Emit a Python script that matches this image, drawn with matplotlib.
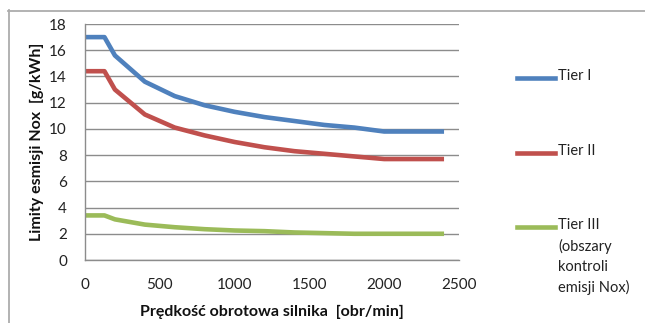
import matplotlib
matplotlib.use("Agg")
import matplotlib.pyplot as plt
from matplotlib.lines import Line2D

# Data
speed = [0, 130, 200, 400, 600, 800, 1000, 1200, 1400, 1600, 1800, 2000, 2400]
tier1 = [17.0, 17.0, 15.6, 13.6, 12.5, 11.8, 11.3, 10.9, 10.6, 10.3, 10.1, 9.8, 9.8]
tier2 = [14.4, 14.4, 13.0, 11.1, 10.1, 9.5, 9.0, 8.6, 8.3, 8.1, 7.9, 7.7, 7.7]
tier3 = [3.4, 3.4, 3.1, 2.7, 2.5, 2.35, 2.25, 2.2, 2.1, 2.05, 2.0, 2.0, 2.0]
series_names = ["Tier I", "Tier II", "Tier III\n(obszary\nkontroli\nemisji Nox)"]
colors = ["#4F81BD", "#C0504D", "#9BBB59"]
xticks = [0, 500, 1000, 1500, 2000, 2500]
yticks = list(range(0, 19, 2))

plt.rcParams['font.family'] = ['Lato', 'DejaVu Sans']

W, H = 645, 323
fig = plt.figure(figsize=(W / 100, H / 100), dpi=100)

# outer border (only top and left edges visible in the crop)
fig.add_artist(Line2D([8 / W, 1.0], [(H - 10.5) / H, (H - 10.5) / H],
                      transform=fig.transFigure, color="#ADADAD", linewidth=1.3))
fig.add_artist(Line2D([8.5 / W, 8.5 / W], [0, (H - 10) / H],
                      transform=fig.transFigure, color="#ADADAD", linewidth=1.3))

ax = fig.add_axes([85 / W, (H - 260) / H, 374 / W, 236 / H])
for y, c in zip([tier1, tier2, tier3], colors):
    ax.plot(speed, y, color=c, linewidth=3.3, solid_capstyle="butt")

ax.set_xlim(0, 2500)
ax.set_ylim(0, 18)
ax.set_xticks(xticks)
ax.set_yticks(yticks)
ax.yaxis.grid(True, color="#8C8C8C", linewidth=1.0)
ax.set_axisbelow(True)
for s in ["top", "right"]:
    ax.spines[s].set_visible(False)
for s in ["left", "bottom"]:
    ax.spines[s].set_color("#8C8C8C")
    ax.spines[s].set_linewidth(1.0)
ax.tick_params(axis="both", length=0, labelsize=11, colors="#222222")
ax.tick_params(axis="y", pad=13)
ax.tick_params(axis="x", pad=13)

ax.set_xlabel("Prędkość obrotowa silnika  [obr/min]", fontsize=11.5,
              fontweight="bold", labelpad=9, color="#111111")
ax.set_ylabel("Limity esmisji Nox  [g/kWh]", fontsize=11.5,
              fontweight="bold", labelpad=4, color="#111111")

# legend (manual)
leg_y = [78, 153, 227]
for y, c, name in zip(leg_y, colors, series_names):
    fy = (H - y) / H
    fig.add_artist(Line2D([517 / W, 555 / W], [fy, fy], color=c,
                          linewidth=3.3, transform=fig.transFigure))
    fig.text(558 / W, fy + 9 / H, name, ha="left", va="top", fontsize=10.5,
             color="#222222", linespacing=1.55)

fig.savefig("out.png", dpi=100)
